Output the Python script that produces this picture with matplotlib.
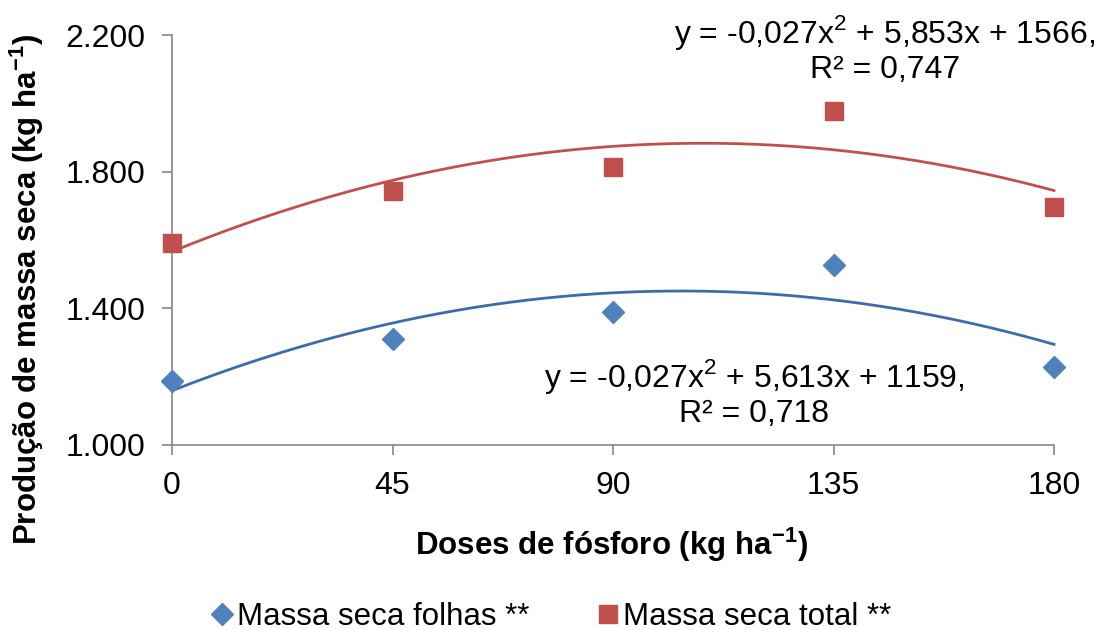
import numpy as np
import matplotlib
matplotlib.use("Agg")
import matplotlib.pyplot as plt

plt.rcParams['font.family'] = ['Liberation Sans', 'DejaVu Sans']
plt.rcParams['mathtext.fontset'] = 'custom'
plt.rcParams['mathtext.rm'] = 'Liberation Sans'
plt.rcParams['mathtext.bf'] = 'Liberation Sans:bold'

# doses de fósforo e médias observadas
doses = [0, 45, 90, 135, 180]
folhas = [1187, 1310, 1389, 1527, 1228]
total = [1591, 1743, 1814, 1977, 1697]

# coeficientes das regressões quadráticas (a, b, c)
coef_folhas = [-0.027, 5.613, 1159]
coef_total = [-0.027, 5.853, 1566]
r2_folhas = 0.718
r2_total = 0.747

yticks = [1000, 1400, 1800, 2200]
ytick_labels = ['1.000', '1.400', '1.800', '2.200']

azul = '#4F81BD'
vermelho = '#C0504D'
cinza = '#868686'

fig = plt.figure(figsize=(10.99, 6.30), dpi=100)
ax = fig.add_axes([172/1099, 1 - 445/630, (1054 - 172)/1099, 410/630])

xx = np.linspace(0, 180, 200)
ax.plot(xx, np.polyval(coef_folhas, xx), color='#3D6CA8', lw=2, clip_on=False)
ax.plot(xx, np.polyval(coef_total, xx), color=vermelho, lw=2, clip_on=False)

h1, = ax.plot(doses, folhas, 'D', color=azul, ms=11, ls='none', clip_on=False, zorder=3,
              label='Massa seca folhas **')
h2, = ax.plot(doses, total, 's', color=vermelho, ms=13.5, ls='none', clip_on=False, zorder=3,
              label='Massa seca total **')

ax.set_xlim(0, 180)
ax.set_ylim(1000, 2200)
ax.set_xticks(doses)
ax.set_yticks(yticks)
ax.set_yticklabels(ytick_labels)
ax.tick_params(labelsize=23, color=cinza, length=7, width=1.2, pad=12)
for s in ['top', 'right']:
    ax.spines[s].set_visible(False)
for s in ['left', 'bottom']:
    ax.spines[s].set_color(cinza)
    ax.spines[s].set_linewidth(1.2)


def eq_text(c, r2):
    a, b, k = c
    txt = 'y = {:.3f}x$^{{2}}$ + {:.3f}x + {:d},\nR² = {:.3f}'.format(a, b, int(k), r2)
    return txt.replace('.', ',')


fig.text(885/1099, 1 - 49/630, eq_text(coef_total, r2_total), fontsize=23, ha='center',
         va='center', multialignment='center', linespacing=1.1)
fig.text(754/1099, 1 - 393/630, eq_text(coef_folhas, r2_folhas), fontsize=23, ha='center',
         va='center', multialignment='center', linespacing=1.1)

fig.text(611/1099, 1 - 545/630, r'Doses de fósforo (kg ha$^{\mathbf{-1}}$)', fontsize=22.5,
         fontweight='bold', ha='center', va='center')
fig.text(27/1099, 1 - 289/630, r'Produção de massa seca (kg ha$^{\mathbf{-1}}$)', fontsize=22.5,
         fontweight='bold', ha='center', va='center', rotation=90)

fig.legend(handles=[h1, h2], loc='center', bbox_to_anchor=(552/1099, 1 - 617/630), ncol=2,
           frameon=False, fontsize=22.5, handlelength=0.6, handletextpad=0.2, columnspacing=2.2,
           markerscale=1.0, borderpad=0)

fig.savefig('out.png', dpi=100)
